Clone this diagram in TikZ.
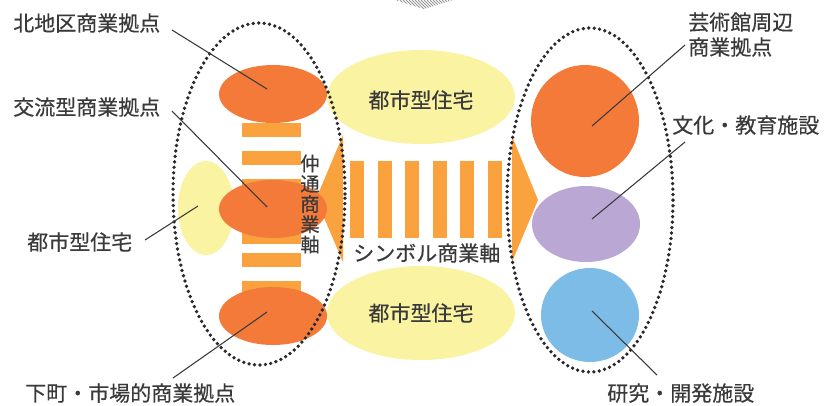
\documentclass[tikz,border=0pt]{standalone}
\usepackage{fontspec}
\setmainfont[FakeBold=0.4]{Noto Sans CJK JP}
\usetikzlibrary{shapes.geometric}
\definecolor{orD}{RGB}{244,122,58}
\definecolor{orL}{RGB}{249,162,62}
\definecolor{yel}{RGB}{250,243,162}
\definecolor{pur}{RGB}{186,167,212}
\definecolor{blu}{RGB}{126,188,232}
\definecolor{txt}{RGB}{58,58,58}
\definecolor{dotc}{RGB}{40,40,45}
\begin{document}
\begin{tikzpicture}[x=0.75pt,y=-0.75pt,
  blob/.style={ellipse, inner sep=0pt, draw=none},
  lbl/.style={text=txt, font=\fontsize{15.75pt}{18.75pt}\selectfont, inner sep=0pt},
  lead/.style={draw=txt, line width=0.8pt},
  dotring/.style={ellipse, inner sep=0pt, draw=dotc, line width=2.8pt, line cap=round, dash pattern=on 0pt off 4.1pt},
  barL/.style={fill=orL}]
\useasboundingbox[fill=white] (0,0) rectangle (830,405);

% top hatched shape
\begin{scope}
  \clip (395,0) -- (453,0) -- (424,9) -- cycle;
  \foreach \i in {370,373,...,460} \draw[gray!80, line width=0.7pt] (\i,0) -- (\i+12,12);
\end{scope}

% yellow housing areas
\node[blob, fill=yel, minimum width=141pt, minimum height=70.5pt] (ytop) at (421,97) {};
\node[blob, fill=yel, minimum width=141pt, minimum height=70.5pt] (ybot) at (421,313) {};
\node[blob, fill=yel, minimum width=42pt, minimum height=70.5pt] (yleft) at (206,208) {};

% naka-dori bars
\foreach \t/\b in {123/137,151/165,179/195,225/244,253/267,281/297}
  \fill[barL] (242,\t) rectangle (301,\b);

% arrow triangles
\fill[orL] (343,135) -- (316,199) -- (343,262) -- cycle;
\fill[orL] (512,136) -- (538,200) -- (512,262) -- cycle;

% symbol axis bars
\foreach \x in {350,377.6,405,433,460,488}
  \fill[barL] (\x,161) rectangle (\x+14,238);

% left orange bases
\node[blob, fill=orD, minimum width=81pt, minimum height=43.5pt] (n1) at (273,94) {};
\node[blob, fill=orD, minimum width=81pt, minimum height=43.5pt] (n2) at (273,209) {};
\node[blob, fill=orD, minimum width=81pt, minimum height=43.5pt] (n3) at (273,316) {};

% right bases
\node[blob, fill=orD, minimum width=81pt, minimum height=84pt] (r1) at (585,121) {};
\node[blob, fill=pur, minimum width=81pt, minimum height=57pt] (r2) at (586,224) {};
\node[blob, fill=blu, minimum width=73.5pt, minimum height=70.5pt] (r3) at (590,315) {};

% dotted rings
\node[dotring, minimum width=129pt, minimum height=256.5pt] (ringL) at (259,194) {};
\node[dotring, minimum width=124.5pt, minimum height=258pt] (ringR) at (590,200) {};

% labels
\node[lbl, anchor=base west] (t1) at (13,31) {北地区商業拠点};
\node[lbl, anchor=base west] (t2) at (13,115) {交流型商業拠点};
\node[lbl, anchor=base west] (t3) at (27,250) {都市型住宅};
\node[lbl, anchor=base west] (t4) at (25,401) {下町・市場的商業拠点};
\node[lbl, anchor=base west] (t5) at (688,30) {芸術館周辺};
\node[lbl, anchor=base west] (t5b) at (688,55) {商業拠点};
\node[lbl, anchor=base west] (t6) at (672,133) {文化・教育施設};
\node[lbl, anchor=base west] (t7) at (607,401) {研究・開発施設};
\node[lbl, anchor=base] (ty1) at (421,108) {都市型住宅};
\node[lbl, anchor=base] (ty2) at (421,321) {都市型住宅};
\node[lbl, anchor=base west] (tsym) at (353,261) {シンボル商業軸};
\node[lbl, align=center, font=\fontsize{14.5pt}{15.2pt}\selectfont] (tnaka) at (310,204) {仲\\通\\商\\業\\軸};

% leader lines
\coordinate (s1) at (172,30);  \coordinate (e1) at (267,89);
\coordinate (s2) at (172,111); \coordinate (e2) at (267,207);
\coordinate (s3) at (145,240); \coordinate (e3) at (198,206);
\coordinate (s4) at (173,378); \coordinate (e4) at (267,312);
\coordinate (s5) at (685,45);  \coordinate (e5) at (592,126);
\coordinate (s6) at (685,142); \coordinate (e6) at (592,219);
\coordinate (s7) at (657,375); \coordinate (e7) at (592,311);
\foreach \k in {1,...,7} \draw[lead] (s\k) -- (e\k);
\end{tikzpicture}
\end{document}
